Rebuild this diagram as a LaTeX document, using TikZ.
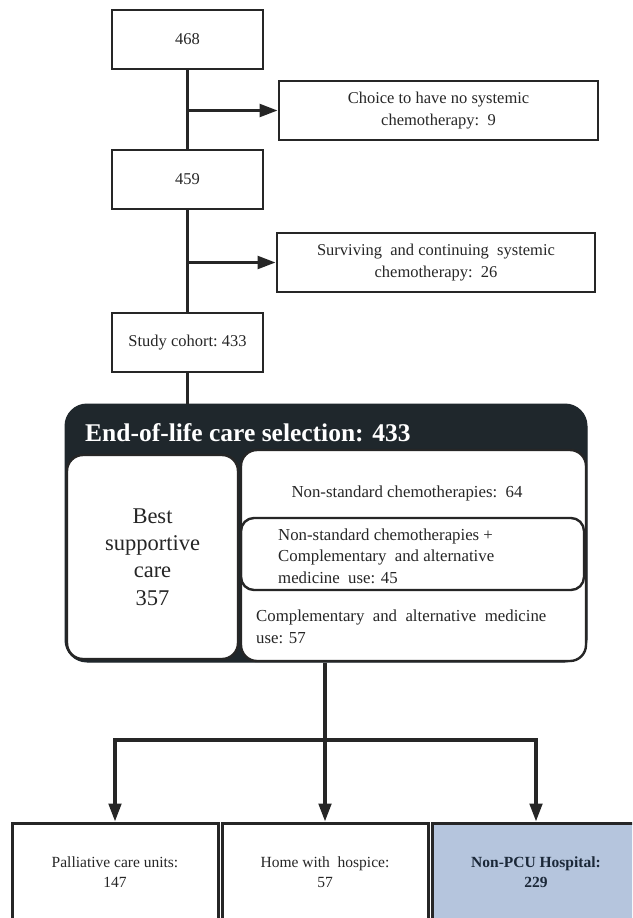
\documentclass[tikz,border=0pt]{standalone}
\usepackage{fontspec}
\setmainfont{Liberation Serif}
\usetikzlibrary{arrows.meta}
\definecolor{ink}{HTML}{262626}
\definecolor{hdr}{HTML}{1F272C}
\definecolor{npcufill}{HTML}{B5C5DD}
\definecolor{navy}{HTML}{1B2838}
\begin{document}
\begin{tikzpicture}[x=1pt,y=-1pt,
  box/.style={draw=ink, line width=2.6pt, fill=white, align=center, inner sep=0pt,
    font=\fontsize{16.5}{22}\selectfont, text=ink},
  inbox/.style={draw=ink, line width=2.4pt, fill=white, inner sep=0pt},
  txt/.style={inner sep=0pt, text=ink, font=\fontsize{16.8}{21.5}\selectfont},
  endbox/.style={box, line width=3pt, minimum height=98pt, font=\fontsize{15.5}{20}\selectfont},
  conn/.style={draw=ink, line width=3.4pt},
  arr/.style={conn, -{Triangle[length=18pt,width=12.5pt]}},
]
\clip (0,0) rectangle (632,918);
\fill[white] (0,0) rectangle (632,918);

% top flow
\node[box, minimum width=151pt, minimum height=59pt] (n468) at (187.5,39.5) {468};
\node[box, minimum width=319pt, minimum height=59pt] (choice) at (438.5,110.5)
  {Choice to have no systemic\\chemotherapy:\ \ 9};
\node[box, minimum width=151pt, minimum height=59pt] (n459) at (187.5,179.5) {459};
\node[box, minimum width=318pt, minimum height=59pt] (surv) at (436,262.5)
  {Surviving\ \ and continuing\ \ systemic\\chemotherapy:\ \ 26};
\node[box, minimum width=151pt, minimum height=59pt] (cohort) at (187.5,342.5) {Study cohort:\ 433};

% end-of-life block
\node[draw=hdr, fill=hdr, line width=1pt, rounded corners=22pt, minimum width=522pt,
  minimum height=258pt, inner sep=0pt] (elc) at (326,533) {};
\node[anchor=west, inner sep=0pt, text=white,
  font=\fontsize{25.5}{28}\selectfont\bfseries] (title) at (85,433) {End-of-life care selection: 433};
\node[inbox, rounded corners=16pt, minimum width=171pt, minimum height=204pt,
  align=center, text=ink, font=\fontsize{22.5}{27.3}\selectfont] (bsc) at (152.5,557)
  {Best\\supportive\\care\\357};
\node[inbox, rounded corners=16pt, minimum width=345pt, minimum height=211pt] (alt) at (413.5,555.5) {};
\node[txt] (t64) at (407,493) {Non-standard chemotherapies:\ \ 64};
\node[inbox, fill=none, rounded corners=13pt, minimum width=343pt, minimum height=72pt] (combo) at (412.5,554) {};
\node[txt, anchor=west, align=left] (combotext) at (278,556)
  {Non-standard chemotherapies +\\Complementary\ \ and alternative\\medicine\ \ use: 45};
\node[txt, anchor=west, align=left] (cam) at (256,627)
  {Complementary\ \ and\ \ alternative\ \ medicine\\use: 57};

% destinations
\node[endbox, minimum width=206pt] (pcu) at (115,872) {Palliative care units:\\147};
\node[endbox, minimum width=206pt] (home) at (325,872) {Home with\ \ hospice:\\57};
\node[endbox, minimum width=208pt, fill=npcufill, text=navy,
  font=\fontsize{15.5}{20}\selectfont\bfseries] (npcu) at (536,872) {Non-PCU Hospital:\\229};

% connectors
\coordinate (j1) at (n468.south |- choice.west);
\coordinate (j2) at (n459.south |- surv.west);
\coordinate (hub) at (325,740);
\draw[conn] (n468) -- (n459);
\draw[arr] (j1) -- (choice);
\draw[conn] (n459) -- (cohort);
\draw[arr] (j2) -- (surv);
\draw[conn] (cohort.south) -- (cohort.south |- elc.north);
\draw[conn] (hub |- elc.south) -- (hub);
\draw[arr] (hub) -| (pcu.north);
\draw[arr] (hub) -- (home.north);
\draw[arr] (hub) -| (npcu.north);
\end{tikzpicture}
\end{document}
